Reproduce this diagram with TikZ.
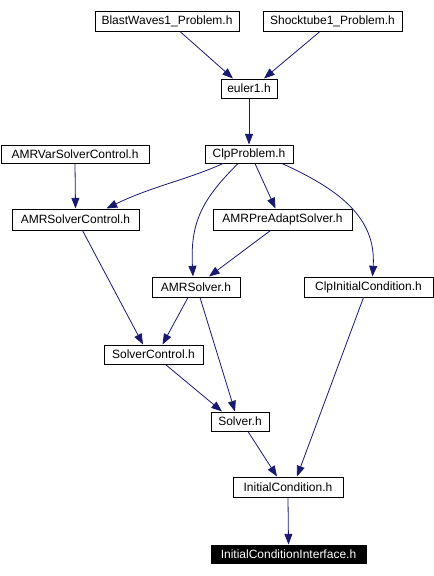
\documentclass[tikz,border=0pt]{standalone}
\usepackage{fontspec}
\setmainfont{Liberation Sans}
\usetikzlibrary{arrows.meta}
\definecolor{edgeblue}{RGB}{25,25,112}
\tikzset{
  hbox/.style 2 args={draw=black, line width=0.75pt, fill=white, inner sep=0pt,
    minimum width=#1*0.75pt, minimum height=#2*0.75pt,
    font=\fontsize{9}{10}\selectfont},
  hboxdark/.style 2 args={hbox={#1}{#2}, fill=black, text=white},
  dep/.style={draw=edgeblue, line width=0.6pt,
    -{Triangle[length=8pt,width=6pt]}, fill=none},
}
\newcommand{\px}[1]{#1*0.75pt}
\begin{document}
\begin{tikzpicture}[x=0.75pt,y=-0.75pt]
\useasboundingbox (0,0) rectangle (434,576);
\node[hbox={144}{20}] (blast) at (167,21) {BlastWaves1\_Problem.h};
\node[hbox={139}{20}] (shock) at (332.5,21) {Shocktube1\_Problem.h};
\node[hbox={56}{19}] (euler) at (249,88.5) {euler1.h};
\node[hbox={88}{18}] (clp) at (249,154) {ClpProblem.h};
\node[hbox={148}{18}] (amrvar) at (75,154) {AMRVarSolverControl.h};
\node[hbox={127}{21}] (amrsc) at (75.5,219.5) {AMRSolverControl.h};
\node[hbox={139}{21}] (amrpre) at (282.5,219.5) {AMRPreAdaptSolver.h};
\node[hbox={88}{20}] (amrsolver) at (196,287) {AMRSolver.h};
\node[hbox={129}{20}] (clpic) at (368.5,287) {ClpInitialCondition.h};
\node[hbox={99}{19}] (sc) at (153.5,354.5) {SolverControl.h};
\node[hbox={58}{19}] (solver) at (240,421.5) {Solver.h};
\node[hbox={110}{20}] (ic) at (288,487) {InitialCondition.h};
\node[hboxdark={155}{18}] (ici) at (288.5,554) {InitialConditionInterface.h};

\draw[dep] ([xshift=\px{13}]blast.south) -- ([xshift=\px{-16}]euler.north);
\draw[dep] ([xshift=\px{-12.5}]shock.south) -- ([xshift=\px{15}]euler.north);
\draw[dep] (euler.south) -- (clp.north);
\draw[dep] (amrvar.south) -- (amrsc.north);
\draw[dep] ([xshift=\px{-26}]clp.south) .. controls ++(-35,16) and ++(45,-22) .. ([xshift=\px{31}]amrsc.north);
\draw[dep] ([xshift=\px{-11}]clp.south) .. controls ++(-35,35) and ++(-3,-55) .. ([xshift=\px{-3}]amrsolver.north);
\draw[dep] ([xshift=\px{6}]clp.south) -- ([xshift=\px{-7}]amrpre.north);
\draw[dep] ([xshift=\px{33}]clp.south) .. controls ++(55,25) and ++(4,-60) .. ([xshift=\px{4}]clpic.north);
\draw[dep] ([xshift=\px{-12}]amrpre.south) -- ([xshift=\px{13}]amrsolver.north);
\draw[dep] ([xshift=\px{7}]amrsc.south) -- ([xshift=\px{-10.5}]sc.north);
\draw[dep] ([xshift=\px{-8}]amrsolver.south) -- ([xshift=\px{9}]sc.north);
\draw[dep] ([xshift=\px{4}]amrsolver.south) -- ([xshift=\px{-5}]solver.north);
\draw[dep] ([xshift=\px{12}]sc.south) -- ([xshift=\px{-18}]solver.north);
\draw[dep] ([xshift=\px{8}]solver.south) -- ([xshift=\px{-11}]ic.north);
\draw[dep] ([xshift=\px{-5}]clpic.south) -- ([xshift=\px{9}]ic.north);
\draw[dep] (ic.south) -- (ici.north);
\end{tikzpicture}
\end{document}
